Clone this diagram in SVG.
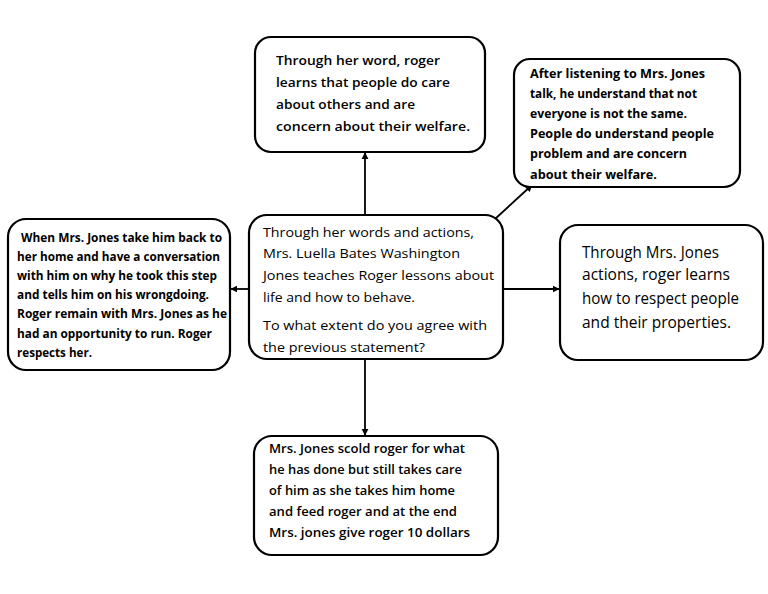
<svg xmlns="http://www.w3.org/2000/svg" width="768" height="594" viewBox="0 0 768 594">
<style>
.box{fill:#fff;stroke:#000;stroke-width:2.2}
.t{font-family:"Open Sans","Liberation Sans",sans-serif;fill:#000}
.n{font-size:13.5px}
.b{font-size:12.8px;font-weight:bold}
.s{font-size:13px;font-weight:600}
.l{font-size:15.5px}
.c{stroke:#000;stroke-width:1.8;fill:none}
</style>
<defs>
<marker id="ah" viewBox="0 0 10 10" refX="9" refY="5" markerWidth="4" markerHeight="4" orient="auto" markerUnits="strokeWidth">
<path d="M0,0 L10,5 L0,10 z" fill="#000"/>
</marker>
</defs>
<rect width="768" height="594" fill="#fff"/>
<g id="connectors">
<line class="c" x1="365" y1="215" x2="365" y2="153" marker-end="url(#ah)"/>
<line class="c" x1="495" y1="219" x2="532" y2="185" marker-end="url(#ah)"/>
<line class="c" x1="249" y1="289" x2="231" y2="289" marker-end="url(#ah)"/>
<line class="c" x1="503" y1="289" x2="559" y2="289" marker-end="url(#ah)"/>
<line class="c" x1="365" y1="359" x2="365" y2="435" marker-end="url(#ah)"/>
</g>
<g id="top">
<rect class="box" x="255" y="37" width="230" height="115" rx="16"/>
<text class="t s"><tspan x="276" y="65" textLength="164" lengthAdjust="spacingAndGlyphs">Through her word, roger</tspan><tspan x="276" y="87" textLength="174" lengthAdjust="spacingAndGlyphs">learns that people do care</tspan><tspan x="276" y="109" textLength="139" lengthAdjust="spacingAndGlyphs">about others and are</tspan><tspan x="276" y="131" textLength="194" lengthAdjust="spacingAndGlyphs">concern about their welfare.</tspan></text>
</g>
<g id="topright">
<rect class="box" x="514" y="59" width="226" height="128" rx="16"/>
<text class="t b"><tspan x="530" y="78" textLength="175" lengthAdjust="spacingAndGlyphs">After listening to Mrs. Jones</tspan><tspan x="530" y="98" textLength="167" lengthAdjust="spacingAndGlyphs">talk, he understand that not</tspan><tspan x="530" y="118" textLength="157" lengthAdjust="spacingAndGlyphs">everyone is not the same.</tspan><tspan x="530" y="138" textLength="184" lengthAdjust="spacingAndGlyphs">People do understand people</tspan><tspan x="530" y="158" textLength="157" lengthAdjust="spacingAndGlyphs">problem and are concern</tspan><tspan x="530" y="179" textLength="127" lengthAdjust="spacingAndGlyphs">about their welfare.</tspan></text>
</g>
<g id="center">
<rect class="box" x="249" y="215" width="254" height="144" rx="18"/>
<text class="t n"><tspan x="263" y="237" textLength="211" lengthAdjust="spacingAndGlyphs">Through her words and actions,</tspan><tspan x="263" y="258" textLength="197" lengthAdjust="spacingAndGlyphs">Mrs. Luella Bates Washington</tspan><tspan x="263" y="280" textLength="231" lengthAdjust="spacingAndGlyphs">Jones teaches Roger lessons about</tspan><tspan x="263" y="302" textLength="152" lengthAdjust="spacingAndGlyphs">life and how to behave.</tspan><tspan x="263" y="330" textLength="224" lengthAdjust="spacingAndGlyphs">To what extent do you agree with</tspan><tspan x="263" y="352" textLength="162" lengthAdjust="spacingAndGlyphs">the previous statement?</tspan></text>
</g>
<g id="left">
<rect class="box" x="8" y="219" width="222" height="151" rx="18"/>
<text class="t b"><tspan x="21" y="242" textLength="201" lengthAdjust="spacingAndGlyphs">When Mrs. Jones take him back to</tspan><tspan x="17" y="261" textLength="203" lengthAdjust="spacingAndGlyphs">her home and have a conversation</tspan><tspan x="17" y="280" textLength="200" lengthAdjust="spacingAndGlyphs">with him on why he took this step</tspan><tspan x="17" y="299" textLength="192" lengthAdjust="spacingAndGlyphs">and tells him on his wrongdoing.</tspan><tspan x="17" y="318" textLength="210" lengthAdjust="spacingAndGlyphs">Roger remain with Mrs. Jones as he</tspan><tspan x="17" y="338" textLength="195" lengthAdjust="spacingAndGlyphs">had an opportunity to run. Roger</tspan><tspan x="17" y="357" textLength="75" lengthAdjust="spacingAndGlyphs">respects her.</tspan></text>
</g>
<g id="right">
<rect class="box" x="560" y="225" width="203" height="135" rx="18"/>
<text class="t l"><tspan x="582" y="258" textLength="137" lengthAdjust="spacingAndGlyphs">Through Mrs. Jones</tspan><tspan x="582" y="280" textLength="148" lengthAdjust="spacingAndGlyphs">actions, roger learns</tspan><tspan x="582" y="304" textLength="157" lengthAdjust="spacingAndGlyphs">how to respect people</tspan><tspan x="582" y="328" textLength="149" lengthAdjust="spacingAndGlyphs">and their properties.</tspan></text>
</g>
<g id="bottom">
<rect class="box" x="254" y="436" width="244" height="119" rx="18"/>
<text class="t s"><tspan x="269" y="453" textLength="196" lengthAdjust="spacingAndGlyphs">Mrs. Jones scold roger for what</tspan><tspan x="269" y="474" textLength="193" lengthAdjust="spacingAndGlyphs">he has done but still takes care</tspan><tspan x="269" y="495" textLength="186" lengthAdjust="spacingAndGlyphs">of him as she takes him home</tspan><tspan x="269" y="516" textLength="188" lengthAdjust="spacingAndGlyphs">and feed roger and at the end</tspan><tspan x="269" y="537" textLength="201" lengthAdjust="spacingAndGlyphs">Mrs. jones give roger 10 dollars</tspan></text>
</g>
</svg>
